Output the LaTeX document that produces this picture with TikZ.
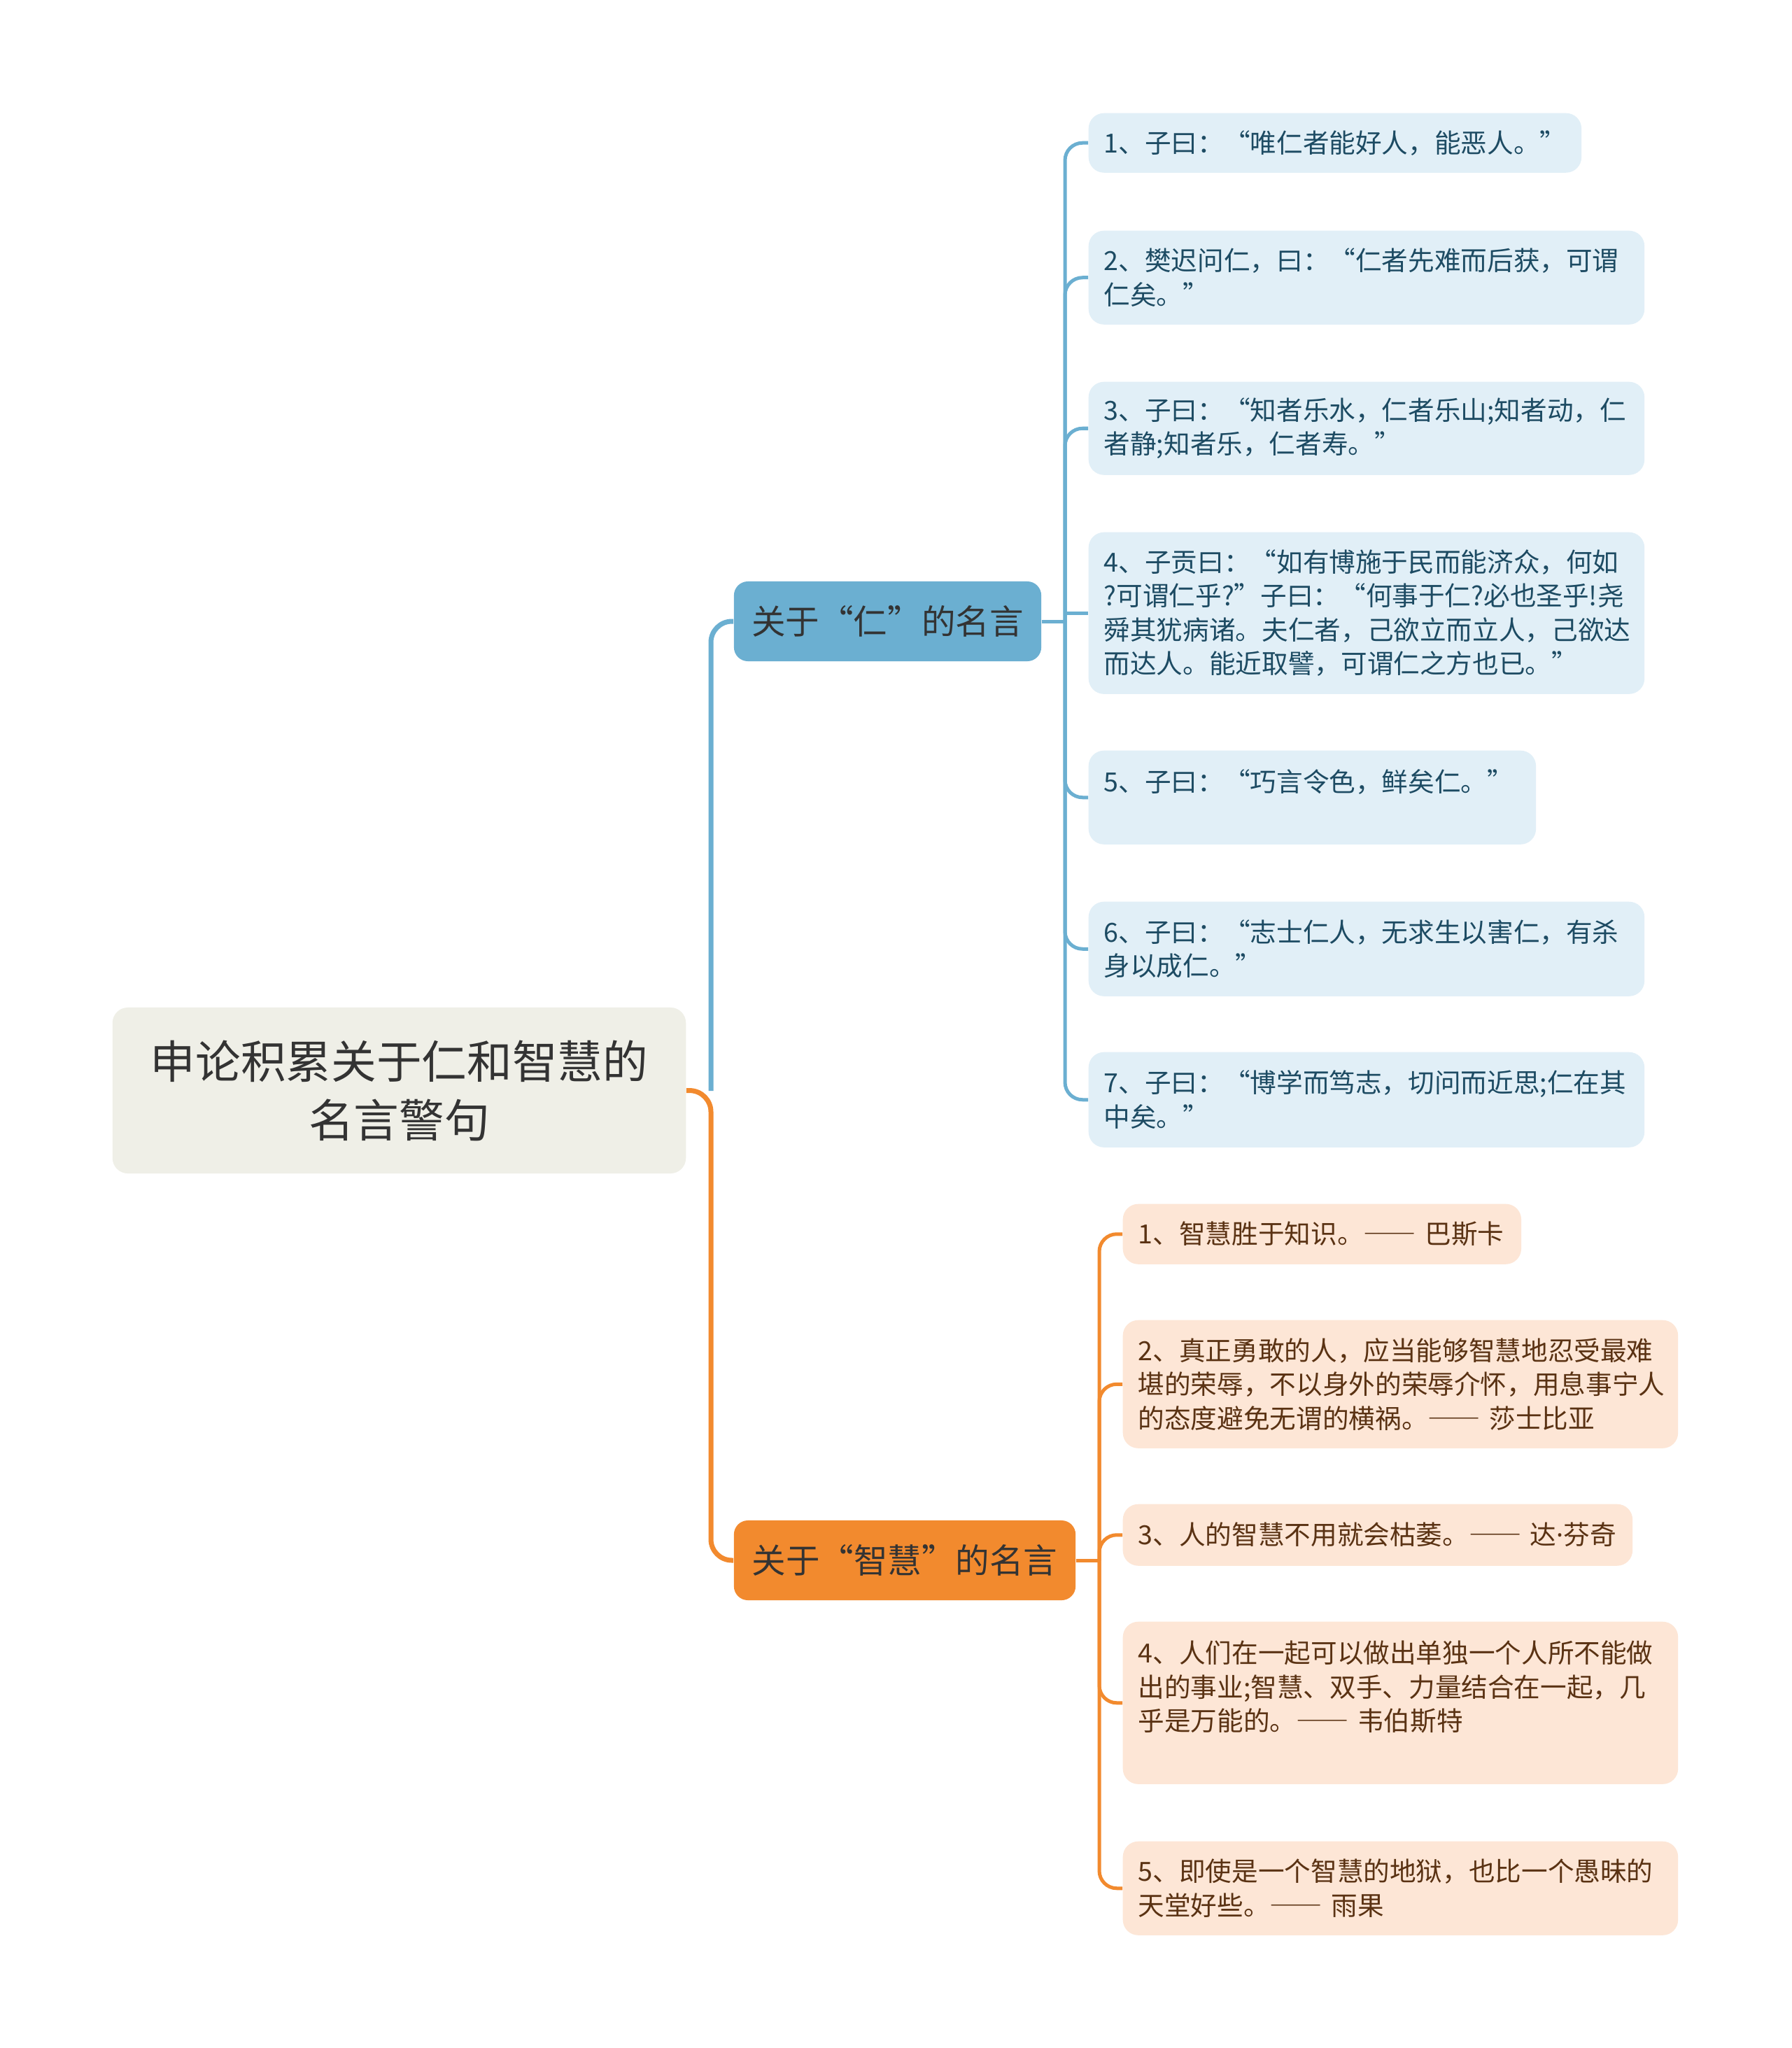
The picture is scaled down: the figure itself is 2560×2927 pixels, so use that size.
\documentclass[tikz,border=0pt]{standalone}
\usepackage{fontspec}
\setmainfont{Noto Sans CJK SC}
\newfontfamily\latinfont{Noto Sans}
\definecolor{rootfill}{HTML}{EFEFE7}
\definecolor{renblue}{HTML}{6BAFD1}
\definecolor{renfill}{HTML}{E1EFF7}
\definecolor{rentext}{HTML}{1D4B63}
\definecolor{zhiorange}{HTML}{F28A2E}
\definecolor{zhifill}{HTML}{FDE6D6}
\definecolor{zhitext}{HTML}{5A3213}
\definecolor{inkdark}{HTML}{333333}
\newcommand\longdash{{\addfontfeature{RawFeature=+fwid}——}}
\newcommand\narrowdot{{\latinfont ·}}
\begin{document}
\begin{tikzpicture}[x=0.01cm, y=-0.01cm,
  rootbox/.style={fill=rootfill, rounded corners=0.22cm, text=inkdark, align=center,
                  font=\fontsize{18.4}{23.9}\selectfont, minimum width=8.19cm, minimum height=2.37cm},
  topic/.style={fill=#1, rounded corners=0.2cm, text=inkdark, inner xsep=0pt,
                font=\fontsize{13.8}{16}\selectfont, minimum height=1.14cm},
  leaf/.style={rounded corners=0.22cm, anchor=north west, align=left,
               inner xsep=0.22cm, inner ysep=0pt, font=\fontsize{10.7}{13.8}\selectfont},
  renleaf/.style={leaf, fill=renfill, text=rentext},
  zhileaf/.style={leaf, fill=zhifill, text=zhitext},
  bigline/.style={line width=0.07cm, draw=#1, rounded corners=0.3cm},
  smallline/.style={line width=0.05cm, draw=#1, rounded corners=0.25cm},
]
\fill[white] (0,0) rectangle (2560,2927);
\useasboundingbox (0,0) rectangle (2560,2927);

%% Root and the two topics
\node[rootbox] (root) at (570.5,1558.5) {申论积累关于仁和智慧的\\名言警句};
\node[topic=renblue, minimum width=4.39cm]   (ren) at (1268.5,888)  {关于“仁”的名言};
\node[topic=zhiorange, minimum width=4.88cm] (zhi) at (1293,2230)   {关于“智慧”的名言};

%% Quotes about ren
\node[renleaf, text width=6.60cm, minimum height=0.85cm] (r1) at (1555,161)
  {1、子曰：“唯仁者能好人，能恶人。”};
\node[renleaf, text width=7.50cm, minimum height=1.34cm] (r2) at (1555,329)
  {2、樊迟问仁，曰：“仁者先难而后获，可谓\\仁矣。”};
\node[renleaf, text width=7.50cm, minimum height=1.33cm] (r3) at (1555,545)
  {3、子曰：“知者乐水，仁者乐山;知者动，仁\\者静;知者乐，仁者寿。”};
\node[renleaf, text width=7.50cm, minimum height=2.31cm] (r4) at (1555,760)
  {4、子贡曰：“如有博施于民而能济众，何如\\?可谓仁乎?”子曰：“何事于仁?必也圣乎!尧\\舜其犹病诸。夫仁者，己欲立而立人，己欲达\\而达人。能近取譬，可谓仁之方也已。”};
\node[renleaf, text width=5.95cm, minimum height=1.34cm] (r5) at (1555,1072)
  {5、子曰：“巧言令色，鲜矣仁。”\\\mbox{}};
\node[renleaf, text width=7.50cm, minimum height=1.35cm] (r6) at (1555,1288)
  {6、子曰：“志士仁人，无求生以害仁，有杀\\身以成仁。”};
\node[renleaf, text width=7.50cm, minimum height=1.36cm] (r7) at (1555,1503)
  {7、子曰：“博学而笃志，切问而近思;仁在其\\中矣。”};

%% Quotes about wisdom
\node[zhileaf, text width=5.25cm, minimum height=0.86cm] (z1) at (1604,1720)
  {1、智慧胜于知识。\longdash~巴斯卡};
\node[zhileaf, text width=7.49cm, minimum height=1.83cm] (z2) at (1604,1886)
  {2、真正勇敢的人，应当能够智慧地忍受最难\\堪的荣辱，不以身外的荣辱介怀，用息事宁人\\的态度避免无谓的横祸。\longdash~莎士比亚};
\node[zhileaf, text width=6.84cm, minimum height=0.88cm] (z3) at (1604,2149)
  {3、人的智慧不用就会枯萎。\longdash~达\narrowdot 芬奇};
\node[zhileaf, text width=7.49cm, minimum height=2.32cm] (z4) at (1604,2317)
  {4、人们在一起可以做出单独一个人所不能做\\出的事业;智慧、双手、力量结合在一起，几\\乎是万能的。\longdash~韦伯斯特\\\mbox{}};
\node[zhileaf, text width=7.49cm, minimum height=1.34cm] (z5) at (1604,2631)
  {5、即使是一个智慧的地狱，也比一个愚昧的\\天堂好些。\longdash~雨果};

%% Connectors
\coordinate (hub)    at (1016,1559);
\coordinate (renhub) at (1522,888);
\coordinate (zhihub) at (1571,2230);
\draw[bigline=renblue]   (ren.west) -| (hub);
\draw[bigline=zhiorange] (root.east) -- (hub) |- (zhi.west);
\draw[smallline=renblue]   (ren.east) -- (renhub);
\draw[smallline=zhiorange] (zhi.east) -- (zhihub);
\foreach \n in {r1,r2,r3,r5,r6,r7}
  \draw[smallline=renblue] (\n.west) -| (renhub);
\draw[smallline=renblue] (r4.west) -- (r4.west -| renhub);
\foreach \n in {z1,z2,z3,z4,z5}
  \draw[smallline=zhiorange] (\n.west) -| (zhihub);

\end{tikzpicture}
\end{document}
